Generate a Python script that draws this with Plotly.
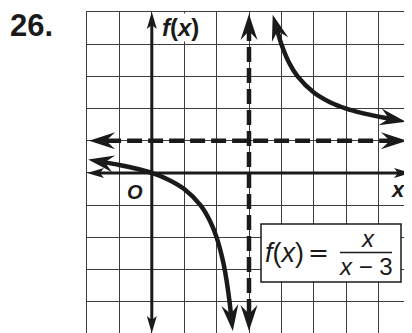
import math
import plotly.graph_objects as go

# ---- data ----
x_range = [-2, 8]
y_range = [-4.97, 5]
asym_x = 3
asym_y = 1

left_x = [-1.45, -1, -0.5, 0, 0.5, 1, 1.5, 1.8, 2.0, 2.2, 2.3, 2.4, 2.442]
left_y = [0.33, 0.25, 0.14, 0, -0.2, -0.5, -1, -1.5, -2, -2.75, -3.29, -4.0, -4.38]
right_x = [3.88, 4, 4.25, 4.5, 5, 5.5, 6, 6.5, 7, 7.32]
right_y = [4.41, 4, 3.4, 3, 2.5, 2.2, 2, 1.86, 1.75, 1.69]

yaxis_ends = [-4.57, 4.6]
xaxis_ends = [-1.6, 7.6]
hdash_ends = [-1.41, 7.35]
vdash_ends = [-4.38, 4.41]

# ---- layout geometry (page body has an 8px margin) ----
OFF = 8
W, H = 412 - OFF, 333 - OFF
ML, MR, MT, MB = 87 - OFF, 1, 12 - OFF, 0
PW, PH = W - ML - MR, H - MT - MB
SX = PW / (x_range[1] - x_range[0])
SY = PH / (y_range[1] - y_range[0])

INK = "#1a1a1a"
GRID = "#3d3d3d"
NARROW = "Liberation Sans Narrow, Liberation Sans, Arial, sans-serif"

fig = go.Figure()

def arrow_shape(ax, ay, bx, by, L, Wd, notch):
    """arrowhead anchored at (bx,by) pointing from (ax,ay) -> (bx,by)."""
    dx = (bx - ax) * SX
    dy = (by - ay) * SY
    n = math.hypot(dx, dy)
    dx, dy = dx / n, dy / n
    px, py = -dy, dx
    tip = ((L - notch) * dx, (L - notch) * dy)
    b1 = (-notch * dx + Wd / 2 * px, -notch * dy + Wd / 2 * py)
    b2 = (-notch * dx - Wd / 2 * px, -notch * dy - Wd / 2 * py)
    path = "M{:.2f},{:.2f} L{:.2f},{:.2f} L0,0 L{:.2f},{:.2f} Z".format(
        tip[0], tip[1], b1[0], b1[1], b2[0], b2[1])
    return dict(type="path", xref="x", yref="y", xsizemode="pixel", ysizemode="pixel",
                xanchor=bx, yanchor=by, path=path, fillcolor=INK,
                line=dict(width=0), layer="above")

shapes = []

# axes
fig.add_trace(go.Scatter(x=[0, 0], y=yaxis_ends, mode="lines",
                         line=dict(color=INK, width=3), hoverinfo="skip"))
fig.add_trace(go.Scatter(x=xaxis_ends, y=[0, 0], mode="lines",
                         line=dict(color=INK, width=3), hoverinfo="skip"))
shapes.append(arrow_shape(0, 0, 0, yaxis_ends[1], 17, 10, 4))
shapes.append(arrow_shape(0, 0, 0, yaxis_ends[0], 17, 10, 4))
shapes.append(arrow_shape(3, 0, xaxis_ends[0], 0, 17, 10, 4))
shapes.append(arrow_shape(3, 0, xaxis_ends[1], 0, 17, 10, 4))

# asymptotes
fig.add_trace(go.Scatter(x=hdash_ends, y=[asym_y, asym_y], mode="lines",
                         line=dict(color=INK, width=4.5, dash="15px,6px"), hoverinfo="skip"))
fig.add_trace(go.Scatter(x=[asym_x, asym_x], y=vdash_ends, mode="lines",
                         line=dict(color=INK, width=4.5, dash="15px,6px"), hoverinfo="skip"))
shapes.append(arrow_shape(3, asym_y, hdash_ends[0], asym_y, 26, 17, 9))
shapes.append(arrow_shape(0, asym_y, hdash_ends[1], asym_y, 26, 17, 9))
shapes.append(arrow_shape(asym_x, 0, asym_x, vdash_ends[1], 26, 17, 9))
shapes.append(arrow_shape(asym_x, 0, asym_x, vdash_ends[0], 26, 17, 9))

# curve
for xs, ys in [(left_x, left_y), (right_x, right_y)]:
    fig.add_trace(go.Scatter(x=xs, y=ys, mode="lines",
                             line=dict(color=INK, width=4.5, shape="spline"),
                             hoverinfo="skip"))
    shapes.append(arrow_shape(xs[1], ys[1], xs[0], ys[0], 26, 17, 9))
    shapes.append(arrow_shape(xs[-2], ys[-2], xs[-1], ys[-1], 26, 17, 9))

def px2x(p):
    return (p - OFF - ML) / SX + x_range[0]
def py2y(p):
    return y_range[1] - (p - OFF - MT) / SY

# formula box
shapes.append(dict(type="rect", xref="x", yref="y", x0=px2x(261), x1=px2x(401),
                   y0=py2y(282), y1=py2y(224),
                   fillcolor="white", line=dict(color=INK, width=1.5), layer="above"))
shapes.append(dict(type="line", xref="x", yref="y", x0=px2x(340), x1=px2x(392),
                   y0=py2y(252.5), y1=py2y(252.5),
                   line=dict(color=INK, width=1.3), layer="above"))

ann = []
ann.append(dict(x=(9 - OFF - ML) / PW, y=1 - (25.4 - OFF - MT) / PH, xref="paper", yref="paper",
                text="<b>26.</b>", borderpad=0,
                showarrow=False, xanchor="left", yanchor="middle",
                font=dict(family="Liberation Sans", size=31, color=INK)))
ann.append(dict(x=px2x(180.5), y=py2y(27), xref="x", yref="y", text="<b><i>f</i>(<i>x</i>)</b>",
                showarrow=False, xanchor="center", yanchor="middle", bgcolor="white", borderpad=0,
                font=dict(family="Liberation Sans", size=24, color=INK)))
ann.append(dict(x=px2x(135), y=py2y(192), xref="x", yref="y", text="<b><i>O</i></b>",
                showarrow=False, xanchor="center", yanchor="middle",
                font=dict(family="Liberation Sans", size=20, color=INK)))
ann.append(dict(x=px2x(398), y=py2y(189), xref="x", yref="y", text="<b><i>x</i></b>",
                showarrow=False, xanchor="center", yanchor="middle",
                font=dict(family="Liberation Sans", size=22, color=INK)))
ann.append(dict(x=px2x(284.5), y=py2y(253), xref="x", yref="y", text="<i>f</i>(<i>x</i>)",
                showarrow=False, xanchor="center", yanchor="middle",
                font=dict(family=NARROW, size=27, color=INK)))
ann.append(dict(x=px2x(318), y=py2y(252), xref="x", yref="y", text="=",
                showarrow=False, xanchor="center", yanchor="middle",
                font=dict(family="DejaVu Sans", size=25, color=INK)))
ann.append(dict(x=px2x(367.5), y=py2y(238.8), xref="x", yref="y", text="<i>x</i>",
                showarrow=False, xanchor="center", yanchor="middle", borderpad=0,
                font=dict(family=NARROW, size=24, color=INK)))
ann.append(dict(x=px2x(366), y=py2y(266.8), xref="x", yref="y", text="<i>x</i> \u2212 3",
                showarrow=False, xanchor="center", yanchor="middle", borderpad=0,
                font=dict(family=NARROW, size=24, color=INK)))

fig.update_layout(
    width=W, height=H, margin=dict(l=ML, r=MR, t=MT, b=MB),
    paper_bgcolor="white", plot_bgcolor="white", showlegend=False,
    shapes=shapes, annotations=ann,
    xaxis=dict(range=x_range, dtick=1, tick0=0, showgrid=True, gridcolor=GRID, gridwidth=1.2,
               zeroline=False, showticklabels=False, ticks="", side="top",
               showline=True, linecolor=GRID, linewidth=1.2, fixedrange=True),
    yaxis=dict(range=y_range, dtick=1, tick0=0, showgrid=True, gridcolor=GRID, gridwidth=1.2,
               zeroline=False, showticklabels=False, ticks="",
               showline=True, mirror=True, linecolor=GRID, linewidth=1.2, fixedrange=True),
)

fig.write_html("out.html", config={"displayModeBar": False})
